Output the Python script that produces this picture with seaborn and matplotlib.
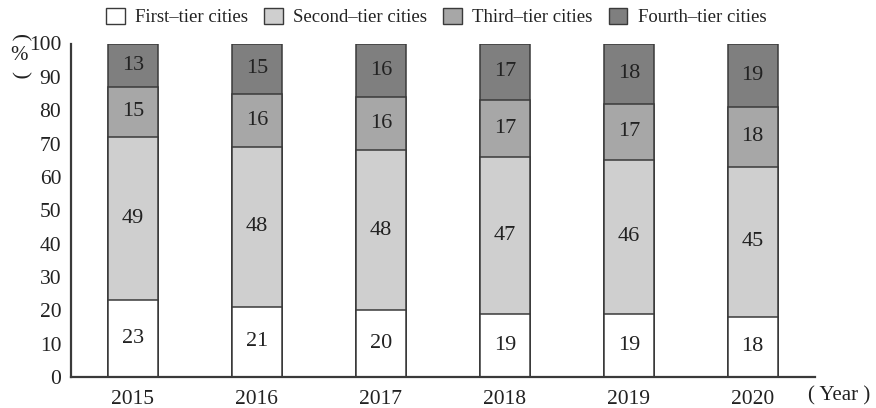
import matplotlib
matplotlib.use("Agg")
import matplotlib.pyplot as plt
import seaborn as sns
import pandas as pd
import numpy as np
from matplotlib.patches import Patch

years = ["2015", "2016", "2017", "2018", "2019", "2020"]
first_tier = [23, 21, 20, 19, 19, 18]
second_tier = [49, 48, 48, 47, 46, 45]
third_tier = [15, 16, 16, 17, 17, 18]
fourth_tier = [13, 15, 16, 17, 18, 19]
series_names = ["First\u2013tier cities", "Second\u2013tier cities",
                "Third\u2013tier cities", "Fourth\u2013tier cities"]
colors = ["#ffffff", "#cfcfcf", "#a7a7a7", "#7f7f7f"]

sns.set_style("white")
plt.rcParams["font.family"] = ["Liberation Serif", "DejaVu Serif"]
edge = "#3a3a3a"
tc = "#222222"

series = [first_tier, second_tier, third_tier, fourth_tier]
cum = np.cumsum(np.array(series), axis=0)

fig = plt.figure(figsize=(8.76, 4.08), dpi=100)
ax = fig.add_axes([71 / 876, 1 - 377 / 408, (814.7 - 71) / 876, (377 - 43.5) / 408])

# draw from top (cumulative) to bottom so lower series overlay upper ones
for i in range(3, -1, -1):
    df = pd.DataFrame({"year": years, "value": cum[i]})
    sns.barplot(data=df, x="year", y="value", color=colors[i], width=0.40,
                edgecolor=edge, linewidth=1.1, saturation=1, ax=ax, errorbar=None)

# labels
for i in range(4):
    for j in range(len(years)):
        bottom = cum[i][j] - series[i][j]
        ax.text(j, bottom + series[i][j] / 2, str(series[i][j]), ha="center",
                va="center", fontsize=16, color=tc)

ax.set_xlim(-0.5, 5.5)
ax.set_ylim(0, 100)
ax.set_yticks(range(0, 101, 10))
ax.set_xlabel("")
ax.set_ylabel("")
for s in ["top", "right"]:
    ax.spines[s].set_visible(False)
for s in ["left", "bottom"]:
    ax.spines[s].set_color(edge)
    ax.spines[s].set_linewidth(1.6)
ax.tick_params(axis="y", direction="in", length=6, width=1.6, color=edge,
               labelsize=15.5, labelcolor=tc, pad=7)
ax.tick_params(axis="x", which="major", length=0, labelsize=15.5,
               labelcolor=tc, pad=9)
ax.set_xticks(np.arange(0.5, 6, 1), minor=True)
ax.tick_params(axis="x", which="minor", direction="in", length=5, width=1.6, color=edge)

fig.text(808 / 876, 1 - 396 / 408, "( Year )", fontsize=15, color=tc,
         ha="left", va="center")
# vertical "(%)": parentheses turned to lie above and below the sign
fig.text(19 / 876, 1 - 38 / 408, "(", fontsize=16, color=tc, rotation=-90,
         ha="center", va="center")
fig.text(19 / 876, 1 - 56 / 408, "%", fontsize=15, color=tc,
         ha="center", va="center")
fig.text(19 / 876, 1 - 75 / 408, ")", fontsize=16, color=tc, rotation=-90,
         ha="center", va="center")

handles = [Patch(facecolor=c, edgecolor=edge, linewidth=1.0) for c in colors]
fig.legend(handles, series_names, loc="center", bbox_to_anchor=(0.498, 1 - 17 / 408),
           ncol=4, frameon=False, fontsize=13.5, handlelength=1.0, handleheight=1.0,
           handletextpad=0.55, columnspacing=0.85, labelcolor=tc)

fig.savefig("out.png", dpi=100)
